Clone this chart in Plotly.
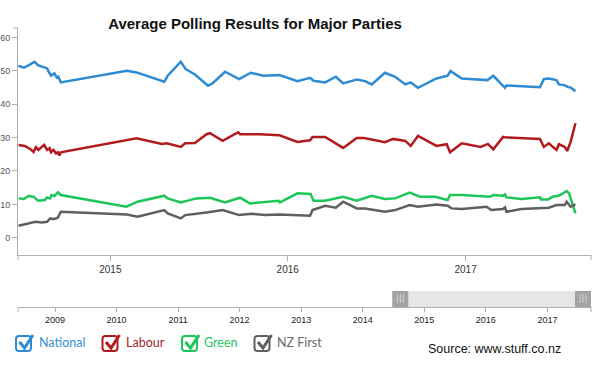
import plotly.graph_objects as go

# ---------------- data ----------------
national_dates = ["2014-06-26", "2014-07-07", "2014-07-20", "2014-07-29", "2014-08-05", "2014-08-17",
                  "2014-08-24", "2014-08-27", "2014-09-01", "2014-09-08", "2014-09-13", "2014-09-16",
                  "2014-09-21", "2015-02-04", "2015-02-24", "2015-04-22", "2015-04-29", "2015-05-26",
                  "2015-06-05", "2015-06-24", "2015-07-21", "2015-07-30", "2015-08-25", "2015-09-23",
                  "2015-10-17", "2015-11-12", "2015-12-15", "2016-01-21", "2016-02-16", "2016-02-23",
                  "2016-03-18", "2016-04-09", "2016-04-24", "2016-05-22", "2016-06-08", "2016-06-22",
                  "2016-07-19", "2016-08-09", "2016-08-30", "2016-09-10", "2016-09-25", "2016-11-02",
                  "2016-11-25", "2016-12-01", "2016-12-24", "2017-02-15", "2017-02-27", "2017-03-23",
                  "2017-03-26", "2017-06-03", "2017-06-11", "2017-06-21", "2017-07-07", "2017-07-12",
                  "2017-07-23", "2017-07-31", "2017-08-05", "2017-08-15"]
national_values = [51.5, 50.9, 51.9, 52.7, 51.7, 51.0, 50.7, 49.7, 48.5, 49.2, 47.9, 48.2, 46.5, 50.0,
                   49.5, 46.7, 48.5, 52.7, 50.5, 48.9, 45.5, 46.2, 49.7, 47.5, 49.4, 48.5, 48.7, 46.9,
                   47.9, 47.0, 46.5, 48.2, 46.2, 47.4, 46.9, 45.9, 49.4, 48.2, 45.9, 46.5, 44.9, 47.7,
                   48.5, 49.9, 47.7, 47.2, 48.5, 44.9, 45.6, 45.1, 47.5, 47.7, 47.2, 45.9, 45.7, 45.1,
                   45.0, 43.9]

labour_dates = ["2014-06-26", "2014-07-09", "2014-07-20", "2014-07-27", "2014-08-01", "2014-08-06",
                "2014-08-13", "2014-08-18", "2014-08-24", "2014-08-29", "2014-09-01", "2014-09-06",
                "2014-09-11", "2014-09-15", "2014-09-18", "2014-09-21", "2015-02-24", "2015-04-17",
                "2015-04-27", "2015-05-26", "2015-06-04", "2015-06-24", "2015-07-18", "2015-07-25",
                "2015-08-20", "2015-09-21", "2015-09-25", "2015-11-05", "2015-12-15", "2016-01-21",
                "2016-02-16", "2016-02-21", "2016-03-18", "2016-04-24", "2016-05-22", "2016-06-06",
                "2016-07-19", "2016-08-05", "2016-08-30", "2016-09-10", "2016-09-25", "2016-11-02",
                "2016-11-23", "2016-11-30", "2016-12-24", "2017-02-01", "2017-02-16", "2017-02-27",
                "2017-03-19", "2017-03-23", "2017-06-03", "2017-06-11", "2017-06-21", "2017-07-07",
                "2017-07-12", "2017-07-24", "2017-07-29", "2017-08-05", "2017-08-15"]
labour_values = [27.8, 27.5, 26.6, 25.7, 27.1, 26.3, 27.2, 27.8, 26.3, 26.8, 25.6, 26.3, 25.3, 25.6,
                 24.6, 25.6, 29.8, 28.1, 28.3, 27.2, 28.3, 28.4, 31.0, 31.3, 29.0, 31.6, 31.0, 31.0,
                 30.7, 28.7, 29.2, 30.2, 30.2, 26.9, 29.9, 29.9, 28.6, 29.6, 29.0, 27.5, 30.5, 27.5,
                 28.0, 25.6, 28.3, 27.2, 28.1, 26.5, 30.2, 30.1, 29.6, 27.2, 28.3, 26.3, 28.0, 27.2,
                 26.0, 28.7, 34.3]

green_dates = ["2014-06-26", "2014-07-07", "2014-07-16", "2014-07-27", "2014-08-05", "2014-08-19",
               "2014-08-24", "2014-08-30", "2014-09-02", "2014-09-08", "2014-09-15", "2014-09-21",
               "2015-02-03", "2015-02-26", "2015-04-22", "2015-04-29", "2015-05-26", "2015-06-27",
               "2015-07-25", "2015-08-25", "2015-09-25", "2015-10-15", "2015-12-13", "2015-12-16",
               "2016-01-21", "2016-02-17", "2016-02-23", "2016-03-18", "2016-04-24", "2016-05-22",
               "2016-06-22", "2016-07-19", "2016-08-09", "2016-09-08", "2016-09-29", "2016-10-30",
               "2016-11-25", "2016-11-30", "2016-12-24", "2017-02-20", "2017-02-27", "2017-03-19",
               "2017-03-23", "2017-03-26", "2017-04-26", "2017-06-03", "2017-06-05", "2017-06-20",
               "2017-06-29", "2017-07-11", "2017-07-18", "2017-07-28", "2017-08-02", "2017-08-07",
               "2017-08-15"]
green_values = [11.8, 11.6, 12.5, 12.3, 11.1, 11.3, 12.1, 11.8, 12.8, 12.5, 13.6, 12.8, 9.3, 10.8,
                12.6, 11.8, 10.6, 11.8, 12.0, 10.6, 12.0, 10.3, 11.1, 10.6, 13.3, 13.1, 11.1, 11.1,
                12.3, 11.1, 12.6, 11.6, 11.8, 13.5, 12.3, 12.3, 11.3, 12.8, 12.8, 12.3, 12.8, 12.6,
                13.0, 12.1, 11.6, 12.1, 11.5, 11.5, 12.3, 12.6, 13.1, 14.0, 13.3, 10.8, 7.3]

nzfirst_dates = ["2014-06-26", "2014-07-13", "2014-07-31", "2014-08-13", "2014-08-24", "2014-08-30",
                 "2014-09-06", "2014-09-15", "2014-09-21", "2015-02-04", "2015-02-26", "2015-04-22",
                 "2015-04-29", "2015-05-26", "2015-06-04", "2015-07-18", "2015-08-20", "2015-09-23",
                 "2015-10-19", "2015-11-15", "2015-12-16", "2016-02-16", "2016-02-21", "2016-03-18",
                 "2016-04-09", "2016-04-24", "2016-05-22", "2016-06-08", "2016-07-19", "2016-08-09",
                 "2016-09-08", "2016-09-25", "2016-11-02", "2016-11-25", "2016-12-03", "2016-12-24",
                 "2017-02-13", "2017-02-23", "2017-03-19", "2017-03-23", "2017-03-26", "2017-04-26",
                 "2017-06-03", "2017-06-21", "2017-07-07", "2017-07-24", "2017-07-28", "2017-08-05",
                 "2017-08-15"]
nzfirst_values = [3.6, 4.1, 4.8, 4.6, 4.8, 5.8, 5.6, 6.0, 7.8, 7.0, 6.3, 8.3, 7.3, 5.8, 6.8, 7.6,
                  8.3, 6.8, 7.2, 6.8, 7.0, 6.6, 8.3, 9.6, 9.0, 10.8, 8.8, 8.8, 7.8, 8.3, 9.8, 9.3,
                  10.0, 9.6, 8.8, 8.6, 9.3, 8.3, 8.6, 9.1, 7.8, 8.6, 8.8, 9.0, 9.8, 9.8, 10.8, 9.3,
                  10.0]

party_names = ["National", "Labour", "Green", "NZ First"]

full_range_start = "2008-05-26"   # navigator (whole history) start
view_start = "2014-06-25"         # zoomed window shown in the main chart
view_end = "2017-09-16"

title_text = "Average Polling Results for Major Parties"
source_text = "Source: www.stuff.co.nz"

# ---------------- styling ----------------
line_colors = ["#2d8bd3", "#b31a1e", "#1cc659", "#5f5f5f"]
label_colors = ["#3a8fd6", "#a3262a", "#25c560", "#6a6a6a"]
axis_color = "#b0b0b0"

W, H = 600, 370
ML, MR, MT, MB = 18, 9, 28, 63
PW, PH = W - ML - MR, H - MT - MB


def px2x(px):
    """page pixel x -> paper x"""
    return (px - ML) / PW


def py2y(py):
    """page pixel y -> paper y"""
    return (H - MB - py) / PH


series = [
    (national_dates, national_values),
    (labour_dates, labour_values),
    (green_dates, green_values),
    (nzfirst_dates, nzfirst_values),
]

fig = go.Figure()
for name, (d, v), col in zip(party_names, series, line_colors):
    fig.add_trace(go.Scatter(x=d, y=v, name=name, mode="lines",
                             line=dict(color=col, width=2.5), showlegend=False,
                             xaxis="x", yaxis="y"))

main_bottom_px = 255
slider_bottom_px = 307
slider_h_px = 16

shapes = []
# navigator: selected window + handles
slider_top = py2y(slider_bottom_px - slider_h_px)
shapes.append(dict(type="rect", xref="x2", yref="paper", x0=view_start, x1=view_end,
                   y0=0, y1=slider_top, fillcolor="#e6e6e6", line=dict(width=0), layer="below"))
for anchor, (a0, a1) in [(view_start, (0, 16)), (view_end, (-16, 0))]:
    shapes.append(dict(type="rect", xref="x2", xsizemode="pixel", xanchor=anchor, x0=a0, x1=a1,
                       yref="paper", y0=0, y1=slider_top, fillcolor="#a3a3a3",
                       line=dict(width=0)))
    for off in (5, 8, 11):
        shapes.append(dict(type="line", xref="x2", xsizemode="pixel", xanchor=anchor,
                           x0=a0 + off, x1=a0 + off, yref="paper",
                           y0=py2y(303), y1=py2y(294), line=dict(color="#d4d4d4", width=1)))

# outer (domain end) ticks
for px in (18, 591):
    shapes.append(dict(type="line", xref="paper", yref="paper", x0=px2x(px), x1=px2x(px),
                       y0=py2y(main_bottom_px), y1=py2y(main_bottom_px + 5),
                       line=dict(color=axis_color, width=1)))
    shapes.append(dict(type="line", xref="paper", yref="paper", x0=px2x(px), x1=px2x(px),
                       y0=0, y1=py2y(slider_bottom_px + 5), line=dict(color=axis_color, width=1)))
shapes.append(dict(type="line", xref="paper", yref="paper", x0=px2x(13), x1=0,
                   y0=1, y1=1, line=dict(color=axis_color, width=1)))

# legend checkboxes
box_left = [16, 102.5, 182, 254.5]
text_left = [37, 124, 202, 275]
box_top, box_size, r = 336, 15, 3
for bx, col in zip(box_left, line_colors):
    x0, x1 = bx, bx + box_size
    y0, y1 = box_top, box_top + box_size
    pts = [
        f"M{px2x(x0 + r)},{py2y(y0)}",
        f"L{px2x(x1 - r)},{py2y(y0)}",
        f"Q{px2x(x1)},{py2y(y0)} {px2x(x1)},{py2y(y0 + r)}",
        f"L{px2x(x1)},{py2y(y1 - r)}",
        f"Q{px2x(x1)},{py2y(y1)} {px2x(x1 - r)},{py2y(y1)}",
        f"L{px2x(x0 + r)},{py2y(y1)}",
        f"Q{px2x(x0)},{py2y(y1)} {px2x(x0)},{py2y(y1 - r)}",
        f"L{px2x(x0)},{py2y(y0 + r)}",
        f"Q{px2x(x0)},{py2y(y0)} {px2x(x0 + r)},{py2y(y0)} Z",
    ]
    shapes.append(dict(type="path", xref="paper", yref="paper", path=" ".join(pts),
                       line=dict(color=col, width=2), fillcolor="rgba(255,255,255,0)"))
    chk = (f"M{px2x(bx + 3.5)},{py2y(box_top + 6)} "
           f"L{px2x(bx + 8.5)},{py2y(box_top + 12)} "
           f"L{px2x(bx + 17)},{py2y(box_top - 1)}")
    shapes.append(dict(type="path", xref="paper", yref="paper", path=chk,
                       line=dict(color=col, width=3)))

annotations = []
for name, tx, col in zip(party_names, text_left, label_colors):
    annotations.append(dict(text=name, xref="paper", yref="paper", x=px2x(tx), y=py2y(343),
                            xanchor="left", yanchor="middle", showarrow=False,
                            font=dict(family="Lato, Open Sans, sans-serif", size=12.5, color=col)))
annotations.append(dict(text=source_text, xref="paper", yref="paper", x=px2x(426), y=py2y(349),
                        xanchor="left", yanchor="middle", showarrow=False,
                        font=dict(family="Arial, Liberation Sans, sans-serif", size=12.5,
                                  color="#111")))

fig.update_layout(
    width=W, height=H,
    margin=dict(l=ML, r=MR, t=MT, b=MB, autoexpand=False),
    paper_bgcolor="white", plot_bgcolor="white",
    font=dict(family="Arial, Liberation Sans, sans-serif"),
    title=dict(text=f"<b>{title_text}</b>", x=255 / W, xanchor="center",
               xref="container", y=1 - 23.5 / H, yref="container", yanchor="middle",
               font=dict(family="Arial, Liberation Sans, sans-serif", size=15, color="#111")),
    xaxis=dict(domain=[0, 1], anchor="y", type="date", range=[view_start, view_end],
               dtick="M12", tick0="2015-01-01", tickformat="%Y", automargin=False,
               ticks="outside", ticklen=5, tickcolor=axis_color, showline=True,
               linecolor=axis_color, linewidth=1, showgrid=False, zeroline=False,
               tickfont=dict(size=10, color="#333")),
    yaxis=dict(domain=[py2y(main_bottom_px), 1], anchor="x", range=[-5.15, 62.8],
               dtick=10, tick0=0, ticks="outside", ticklen=5, tickcolor=axis_color,
               showline=True, linecolor=axis_color, linewidth=1, showgrid=False,
               zeroline=False, automargin=False, tickfont=dict(size=9, color="#555")),
    xaxis2=dict(domain=[0, 1], anchor="y2", type="date", range=[full_range_start, view_end],
                dtick="M12", tick0="2009-01-01", tickformat="%Y", automargin=False,
                ticks="outside", ticklen=4, tickcolor=axis_color, showline=True,
                linecolor=axis_color, linewidth=1, showgrid=False, zeroline=False,
                tickfont=dict(size=9, color="#222")),
    yaxis2=dict(domain=[0, slider_top], anchor="x2", range=[0, 1], visible=False,
                automargin=False),
    shapes=shapes,
    annotations=annotations,
)

# the page's default 8px body margin would shift the whole figure; remove it
fig.write_html("out.html", config={"displayModeBar": False},
               post_script="document.body.style.margin='0px';")
